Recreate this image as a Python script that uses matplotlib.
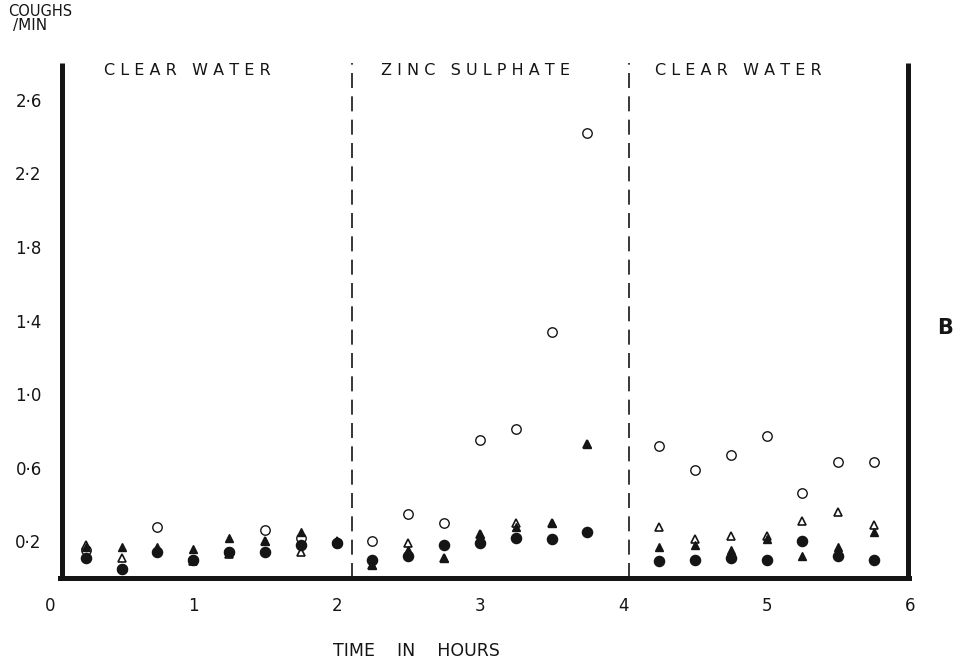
import numpy as np
import matplotlib
matplotlib.use("Agg")
import matplotlib.pyplot as plt

# time of each count (hours)
times = [0.25, 0.5, 0.75, 1.0, 1.25, 1.5, 1.75, 2.0,
         2.25, 2.5, 2.75, 3.0, 3.25, 3.5, 3.75,
         4.25, 4.5, 4.75, 5.0, 5.25, 5.5, 5.75]

# coughs per minute, one list per fish (marker)
open_circle = [0.15, 0.05, 0.28, 0.10, 0.14, 0.26, 0.22, 0.19,
               0.20, 0.35, 0.30, 0.75, 0.81, 1.34, 2.42,
               0.72, 0.59, 0.67, 0.77, 0.46, 0.63, 0.63]
open_tri = [0.18, 0.11, 0.15, 0.09, 0.13, 0.20, 0.14, 0.20,
            0.07, 0.19, 0.11, 0.24, 0.30, 0.30, 0.73,
            0.28, 0.21, 0.23, 0.23, 0.31, 0.36, 0.29]
filled_circle = [0.11, 0.05, 0.14, 0.10, 0.14, 0.14, 0.18, 0.19,
                 0.10, 0.12, 0.18, 0.19, 0.22, 0.21, 0.25,
                 0.09, 0.10, 0.11, 0.10, 0.20, 0.12, 0.10]
filled_tri = [0.17, 0.17, 0.17, 0.16, 0.22, 0.20, 0.25, 0.20,
              0.07, 0.15, 0.11, 0.24, 0.28, 0.30, 0.73,
              0.17, 0.18, 0.15, 0.21, 0.12, 0.17, 0.25]

yticks = [0.2, 0.6, 1.0, 1.4, 1.8, 2.2, 2.6]
ytick_labels = ["0\u00b72", "0\u00b76", "1\u00b70", "1\u00b74", "1\u00b78", "2\u00b72", "2\u00b76"]
xticks = [0, 1, 2, 3, 4, 5, 6]

# treatment changes and labels
changes = [2.11, 4.04]
periods = ["C L E A R   W A T E R", "Z I N C   S U L P H A T E", "C L E A R   W A T E R"]
period_x = [0.96, 2.97, 4.80]

plt.rcParams["font.family"] = ["DejaVu Sans"]
ink = "#151515"

fig = plt.figure(figsize=(9.72, 6.6), dpi=100)
ax = fig.add_axes([0.0514, 0.1242, 0.8848, 0.7803])
ax.set_xlim(0, 6)
ax.set_ylim(0, 2.8)
for s in ax.spines.values():
    s.set_visible(False)

# thick frame (open at the top)
x_left, x_right = 0.084, 5.983
ax.plot([x_left, x_left], [0, 2.8], color=ink, lw=3.6, solid_capstyle="butt", clip_on=False, zorder=2)
ax.plot([x_right, x_right], [0, 2.8], color=ink, lw=3.6, solid_capstyle="butt", clip_on=False, zorder=2)
ax.plot([x_left - 0.012, x_right + 0.012], [0, 0], color=ink, lw=3.6, clip_on=False, zorder=2)

for c in changes:
    ax.plot([c, c], [0, 2.8], color=ink, lw=1.2, linestyle=(0, (9, 5)), zorder=1)

for x, lab in zip(period_x, periods):
    ax.text(x, 2.76, lab, ha="center", va="center", fontsize=11.5, color=ink)

ax.plot(times, open_circle, "o", ms=6.8, mfc="white", mec=ink, mew=1.0, linestyle="none", zorder=3)
ax.plot(times, open_tri, "^", ms=6.3, mfc="white", mec=ink, mew=1.2, linestyle="none", zorder=4)
ax.plot(times, filled_circle, "o", ms=7.3, mfc=ink, mec=ink, linestyle="none", zorder=5)
ax.plot(times, filled_tri, "^", ms=6.3, mfc=ink, mec=ink, linestyle="none", zorder=6)

ax.set_yticks(yticks)
ax.set_yticklabels(ytick_labels)
ax.set_xticks(xticks)
ax.tick_params(axis="y", length=0, pad=6, labelsize=12, colors=ink)
ax.tick_params(axis="x", length=0, pad=14, labelsize=12, colors=ink)

fig.text(0.428, 0.013, "TIME    IN    HOURS", ha="center", va="center", fontsize=12.5, color=ink)
fig.text(0.008, 0.982, "COUGHS", ha="left", va="center", fontsize=10.5, color=ink)
fig.text(0.013, 0.961, "/MIN", ha="left", va="center", fontsize=11, color=ink)
fig.text(0.972, 0.503, "B", ha="center", va="center", fontsize=15, fontweight="bold", color=ink)

fig.savefig("out.png", dpi=100)
